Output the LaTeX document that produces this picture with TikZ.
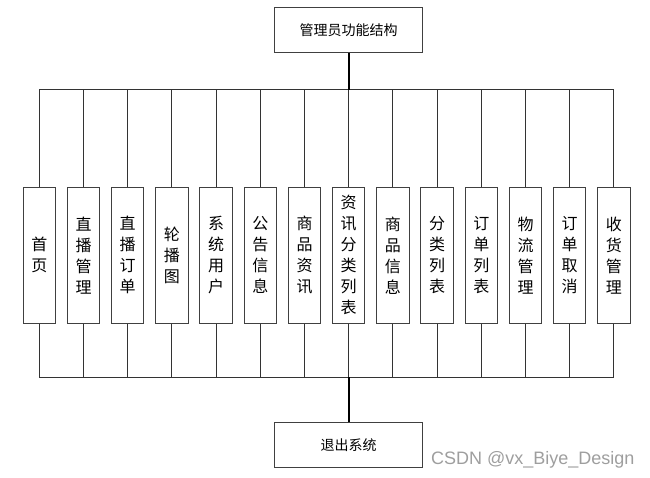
\documentclass[tikz,border=0pt]{standalone}
\usepackage{fontspec}
\newfontfamily\cjkfont{Noto Sans CJK SC}
\newfontfamily\markfont{Liberation Sans}
\usetikzlibrary{calc}
\tikzset{
	topbox/.style={draw=black!75, line width=1pt, fill=white, minimum width=148.5, minimum height=45, inner sep=0pt, font=\cjkfont\fontsize{14}{16}\selectfont},
	colbox/.style={draw=black!75, line width=1pt, fill=white, minimum width=32.3, minimum height=136, inner sep=0pt, align=center, font=\cjkfont\fontsize{16}{21}\selectfont},
	link/.style={line width=1pt, draw=black!80},
	trunk/.style={line width=2pt, draw=black},
}
\begin{document}
\begin{tikzpicture}[x=1pt,y=-1pt]
			%%%%% START %%%%%
			\useasboundingbox (0,0) rectangle (650,478);
			
			\node[topbox] (admin) at (348.7, 29.7) {管理员功能结构};
			\node[topbox] (quit) at (348.7, 445) {退出系统};
			\coordinate (upbar) at (348.7, 90);
			\coordinate (lowbar) at (348.7, 377.3);
			
			\foreach \txt [count=\i] in {{首\\页},{直\\播\\管\\理},{直\\播\\订\\单},{轮\\播\\图},{系\\统\\用\\户},{公\\告\\信\\息},{商\\品\\资\\讯},{资\\讯\\分\\类\\列\\表},{商\\品\\信\\息},{分\\类\\列\\表},{订\\单\\列\\表},{物\\流\\管\\理},{订\\单\\取\\消},{收\\货\\管\\理}}{
				\node[colbox] (m\i) at ({39.3+(\i-1)*44.2}, 255.3) {\txt};
				\draw[link] (m\i.north) -- (m\i.north |- upbar);
				\draw[link] (m\i.south) -- (m\i.south |- lowbar);
			}
			
			\draw[link] (m1.north |- upbar) -- (m14.north |- upbar);
			\draw[link] (m1.south |- lowbar) -- (m14.south |- lowbar);
			\draw[trunk] (admin.south) -- (upbar);
			\draw[trunk] (quit.north) -- (lowbar);
			
			\node[font=\markfont\fontsize{18}{20}\selectfont, text=black!38, anchor=base west, inner sep=0pt] (mark) at (431, 464.5) {CSDN @vx\_Biye\_Design};
			
			%%%%% END %%%%%
\end{tikzpicture}
\end{document}
